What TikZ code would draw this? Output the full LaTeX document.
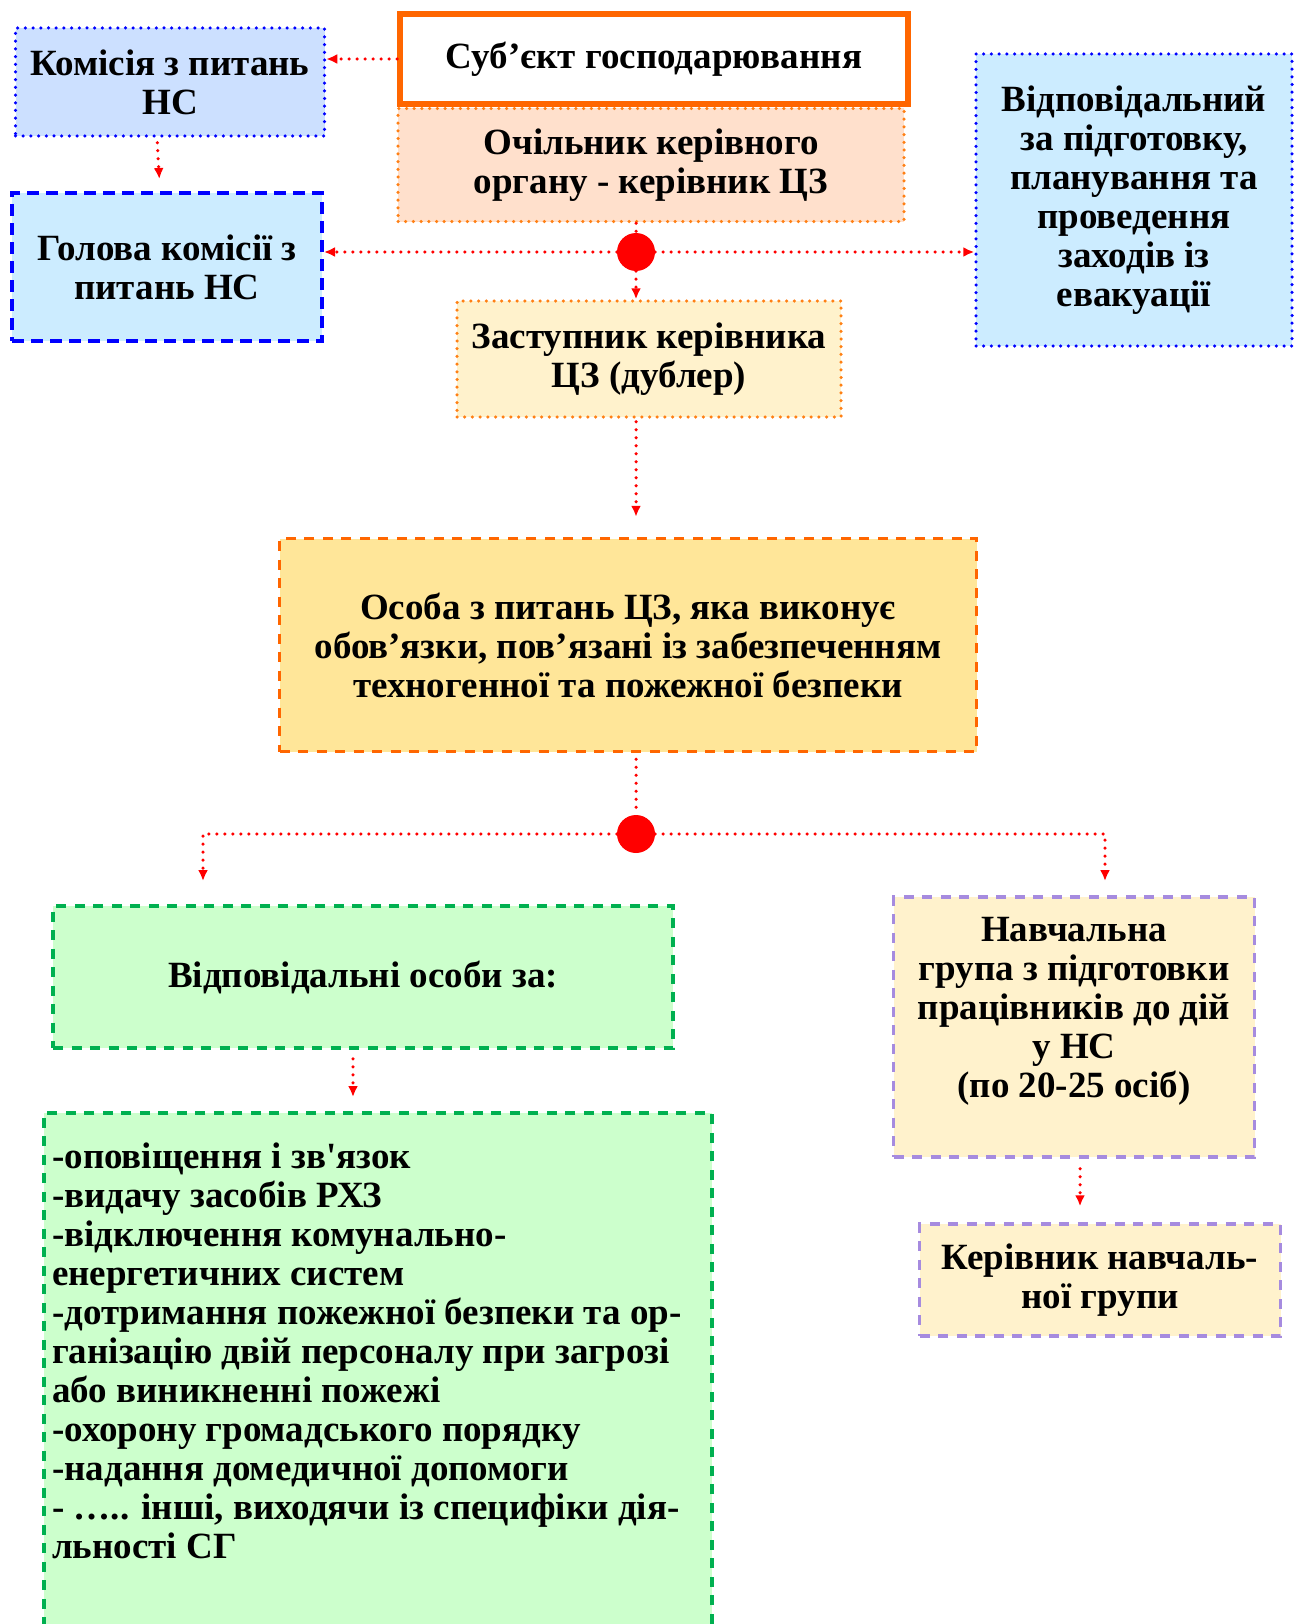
\documentclass[tikz,border=0pt]{standalone}
\usepackage{fontspec}
\setmainfont{Liberation Serif}[Ligatures=TeXOff]
\usetikzlibrary{arrows.meta}
\definecolor{orangeV}{RGB}{255,102,0}
\definecolor{orangeC}{RGB}{255,128,20}
\definecolor{peche}{RGB}{255,224,204}
\definecolor{jauneP}{RGB}{255,242,204}
\definecolor{jaune}{RGB}{255,230,153}
\definecolor{bleu}{RGB}{0,0,255}
\definecolor{bleuP}{RGB}{204,224,255}
\definecolor{cyanP}{RGB}{204,236,255}
\definecolor{vert}{RGB}{0,176,80}
\definecolor{vertP}{RGB}{204,255,204}
\definecolor{lilas}{RGB}{166,139,223}

\begin{document}
\begin{tikzpicture}[x=1pt,y=-1pt]
    % Styles (cadres)
    \tikzstyle{cadre}=[rectangle,inner sep=0pt,align=center,line width=3.5pt,font=\fontsize{37}{39}\selectfont\bfseries]
    \tikzstyle{pointilles}=[line cap=round,dash pattern=on 0pt off 7.7pt]
    \tikzstyle{tirets}=[dash pattern=on 10pt off 8.5pt]
    \tikzstyle{entite}=[cadre,draw=orangeV,fill=white,line width=6pt]
    \tikzstyle{chef}=[cadre,pointilles,draw=orangeC,fill=peche]
    \tikzstyle{adjoint}=[cadre,pointilles,draw=orangeC,fill=jauneP]
    \tikzstyle{commission}=[cadre,pointilles,draw=bleu,fill=bleuP]
    \tikzstyle{president}=[cadre,dash pattern=on 12pt off 7pt,line width=4pt,draw=bleu,fill=cyanP]
    \tikzstyle{evacuation}=[cadre,pointilles,draw=bleu,fill=cyanP]
    \tikzstyle{personne}=[cadre,tirets,draw=orangeV,fill=jaune]
    \tikzstyle{responsables}=[cadre,tirets,draw=vert,fill=vertP]
    \tikzstyle{groupe}=[cadre,tirets,draw=lilas,fill=jauneP]
    \tikzstyle{texteliste}=[inner sep=0pt,align=left,font=\fontsize{37}{39}\selectfont\bfseries]
    % Styles (liens)
    \tikzstyle{jonction}=[circle,fill=red,minimum size=38pt,inner sep=0pt]
    \tikzstyle{lien}=[red,line width=3.5pt,line cap=round,dash pattern=on 0pt off 8pt,-{Latex[length=11pt,width=10pt]}]
    % Cadre de la page
    \path[use as bounding box,fill=white] (0,0) rectangle (1295,1624);
    % Noeuds
    \node[chef,minimum width=506,minimum height=113] (chef) at (651,165) {Очільник керівного\\органу - керівник ЦЗ};
    \node[entite,minimum width=508,minimum height=90] (entite) at (654,59) {Суб’єкт господарювання};
    \node[commission,minimum width=309,minimum height=108] (commission) at (170,82) {Комісія з питань\\НС};
    \node[president,minimum width=310,minimum height=148] (president) at (167,267) {Голова комісії з\\питань НС};
    \node[evacuation,minimum width=316,minimum height=292] (evacuation) at (1134,200) {Відповідальний\\за підготовку,\\планування та\\проведення\\заходів із\\евакуації};
    \node[jonction] (jA) at (636,252) {};
    \node[adjoint,minimum width=384,minimum height=116] (adjoint) at (649,359) {Заступник керівника\\ЦЗ (дублер)};
    \node[personne,minimum width=697,minimum height=213] (personne) at (628,645) {Особа з питань ЦЗ, яка виконує\\обов’язки, пов’язані із забезпеченням\\техногенної та пожежної безпеки};
    \node[jonction] (jB) at (636,834) {};
    \coordinate (brancheG) at (203,881);
    \coordinate (brancheD) at (1105,881);
    \node[responsables,minimum width=620,minimum height=142] (responsables) at (363,977) {Відповідальні особи за:};
    \node[responsables,minimum width=668,minimum height=620,anchor=north west] (liste) at (42,1111) {};
    \node[texteliste,anchor=north west] (taches) at (52,1143) {-оповіщення і зв'язок\\-видачу засобів РХЗ\\-відключення комунально-\\енергетичних систем\\-дотримання пожежної безпеки та ор-\\ганізацію двій персоналу при загрозі\\або виникненні пожежі\\-охорону громадського порядку\\-надання домедичної допомоги\\- ….. інші, виходячи із специфіки дія-\\льності СГ};
    \node[groupe,minimum width=361,minimum height=260] (groupe) at (1074,1027) {Навчальна\\група з підготовки\\працівників до дій\\у НС\\(по 20-25 осіб)\\~};
    \node[groupe,minimum width=361,minimum height=112] (chefgroupe) at (1100,1280) {Керівник навчаль-\\ної групи};
    % Arcs
    \draw[lien] (entite.west) -- (entite.west -| commission.east);
    \draw[lien,shorten <=5pt,shorten >=12pt] ([xshift=-13pt]commission.south) -- ([xshift=-10pt]commission.south |- president.north);
    \draw[lien,-] (jA |- chef.south) -- (jA);
    \draw[lien] (jA) -- (jA -| president.east);
    \draw[lien] (jA) -- (jA -| evacuation.west);
    \draw[lien] (jA) -- (jA |- adjoint.north);
    \draw[lien,shorten <=3pt,shorten >=20pt] (jA |- adjoint.south) -- (jA |- personne.north);
    \draw[lien,-,shorten <=6pt] (jB |- personne.south) -- (jB);
    \draw[lien] (jB) -| (brancheG);
    \draw[lien] (jB) -| (brancheD);
    \draw[lien,shorten <=9pt,shorten >=14pt] ([xshift=-10pt]responsables.south) -- ([xshift=-10pt]responsables.south |- liste.north);
    \draw[lien,shorten <=10pt,shorten >=16pt] ([xshift=6pt]groupe.south) -- ([xshift=6pt]groupe.south |- chefgroupe.north);
\end{tikzpicture}
\end{document}
